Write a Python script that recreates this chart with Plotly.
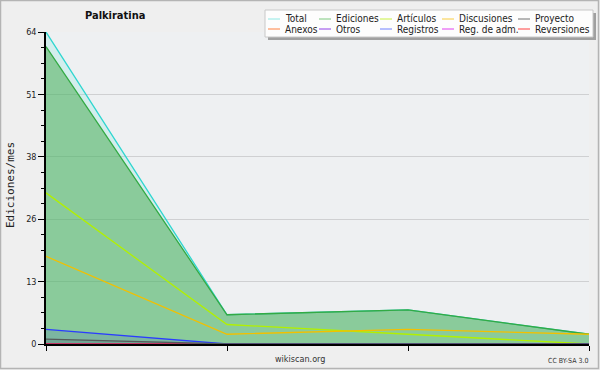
import plotly.graph_objects as go

# ---- data ----
periods = [0, 1, 2, 3]
series_names = ["Total", "Ediciones", "Artículos", "Discusiones", "Proyecto",
                "Anexos", "Otros", "Registros", "Reg. de adm.", "Reversiones"]
total = [64, 6, 7, 2]
ediciones = [61, 6, 7, 2]
articulos = [31, 4, 2, 0]
discusiones = [18, 2, 3, 2]
proyecto = [1, 0, 0, 0]
anexos = [0, 0, 0, 0]
otros = [0, 0, 0, 0]
registros = [3, 0, 0, 0]
reg_adm = [0, 0, 0, 0]
reversiones = [0, 0, 0, 0]
y_tick_vals = [0, 12.8, 25.6, 38.4, 51.2, 64]
y_tick_text = ["0", "13", "26", "38", "51", "64"]

values = {
    "Total": total, "Ediciones": ediciones, "Artículos": articulos,
    "Discusiones": discusiones, "Proyecto": proyecto, "Anexos": anexos,
    "Otros": otros, "Registros": registros, "Reg. de adm.": reg_adm,
    "Reversiones": reversiones,
}
line_colors = {
    "Total": "#2fd6d0", "Ediciones": "#33aa44", "Artículos": "#b2f000",
    "Discusiones": "#f2c000", "Proyecto": "#555a5a", "Anexos": "#ff8040",
    "Otros": "#8a2be2", "Registros": "#2a3cff", "Reg. de adm.": "#e040f0",
    "Reversiones": "#ff3030",
}
legend_colors = {
    "Total": "#8ee8e4", "Ediciones": "#7cc87e", "Artículos": "#c8f040",
    "Discusiones": "#f8cc40", "Proyecto": "#707070", "Anexos": "#ff8040",
    "Otros": "#9040e8", "Registros": "#7080ff", "Reg. de adm.": "#e040f0",
    "Reversiones": "#ff4040",
}
fills = {
    "Total": "rgba(120,230,220,0.22)",
    "Ediciones": "rgba(70,170,80,0.52)",
    "Registros": "rgba(40,60,200,0.14)",
    "Proyecto": "rgba(40,50,50,0.12)",
}

W, H = 600, 370
L, R, T, B = 46, 589, 32, 344

def px_x(x):
    return (x - L) / (R - L)

def px_y(y):
    return (B - y) / (B - T)

fig = go.Figure()
draw_order = ["Total", "Ediciones", "Artículos", "Discusiones", "Anexos", "Otros",
              "Reg. de adm.", "Reversiones", "Registros", "Proyecto"]
for name in draw_order:
    fig.add_trace(go.Scatter(
        x=periods, y=values[name], mode="lines", name=name,
        line=dict(color=line_colors[name], width=1.3),
        fill="tozeroy" if name in fills else None,
        fillcolor=fills.get(name),
        showlegend=False, hoverinfo="skip",
    ))

font = "DejaVu Sans Condensed, DejaVu Sans, Verdana, sans-serif"
mono = "DejaVu Sans Mono, monospace"

shapes = [
    # outer border
    dict(type="rect", xref="paper", yref="paper", x0=px_x(0.5), x1=px_x(W - 1.5),
         y0=px_y(H - 1.5), y1=px_y(0.5), line=dict(color="#b4b4b4", width=1.5),
         layer="below"),
    # legend shadow
    dict(type="rect", xref="paper", yref="paper", x0=px_x(268), x1=px_x(596),
         y0=px_y(40), y1=px_y(13), line=dict(width=0), fillcolor="#a0a0a0"),
    # legend box
    dict(type="rect", xref="paper", yref="paper", x0=px_x(265), x1=px_x(593),
         y0=px_y(37), y1=px_y(10), line=dict(color="#c8c8c8", width=1),
         fillcolor="#fdfdfd"),
]

annotations = [
    dict(text="<b>Palkiratina</b>", xref="paper", yref="paper", x=px_x(115), y=px_y(16),
         showarrow=False, font=dict(family=font, size=11, color="#111"),
         xanchor="center", yanchor="middle"),
    dict(text="Ediciones/mes", xref="paper", yref="paper", x=px_x(10), y=px_y(185),
         textangle=-90, showarrow=False, font=dict(family=mono, size=11, color="#222"),
         xanchor="center", yanchor="middle"),
    dict(text="wikiscan.org", xref="paper", yref="paper", x=px_x(300), y=px_y(359),
         showarrow=False, font=dict(family=font, size=9, color="#333"),
         xanchor="center", yanchor="middle"),
    dict(text="CC BY-SA 3.0", xref="paper", yref="paper", x=px_x(590), y=px_y(361),
         showarrow=False, font=dict(family=font, size=7, color="#333"),
         xanchor="right", yanchor="middle"),
]

legend_rows = [["Total", "Ediciones", "Artículos", "Discusiones", "Proyecto"],
               ["Anexos", "Otros", "Registros", "Reg. de adm.", "Reversiones"]]
col_x = [268, 319, 380, 442, 518]
row_y = [19, 29]
for ri, row in enumerate(legend_rows):
    for ci, name in enumerate(row):
        x0 = col_x[ci]
        y = row_y[ri]
        shapes.append(dict(type="line", xref="paper", yref="paper",
                           x0=px_x(x0), x1=px_x(x0 + 12), y0=px_y(y), y1=px_y(y),
                           line=dict(color=legend_colors[name], width=1)))
        annotations.append(dict(text=name, xref="paper", yref="paper",
                                x=px_x(x0 + 15), y=px_y(y), showarrow=False,
                                xanchor="left", yanchor="middle",
                                font=dict(family=font, size=10, color="#222")))

fig.update_layout(
    width=W, height=H,
    margin=dict(l=L, r=W - R, t=T, b=H - B),
    paper_bgcolor="#efefef", plot_bgcolor="#eef0f2",
    showlegend=False,
    shapes=shapes, annotations=annotations,
    font=dict(family=font, size=9, color="#222"),
)
fig.update_xaxes(range=[0, 3], tickvals=periods, showticklabels=False,
                 ticks="outside", ticklen=5, tickcolor="#000",
                 showline=True, linecolor="#000", linewidth=1.5,
                 showgrid=False, zeroline=False, fixedrange=True)
fig.update_yaxes(range=[0, 64], tickvals=y_tick_vals, ticktext=y_tick_text,
                 ticks="outside", ticklen=6, tickcolor="#000",
                 tickfont=dict(family=font, size=9, color="#222"),
                 showline=True, linecolor="#000", linewidth=1.5,
                 showgrid=True, gridcolor="#cfd0d2", gridwidth=1,
                 zeroline=False,
                 minor=dict(dtick=3.2, tick0=0, ticks="outside", ticklen=3,
                            tickcolor="#000", showgrid=False))

fig.write_html("out.html")
